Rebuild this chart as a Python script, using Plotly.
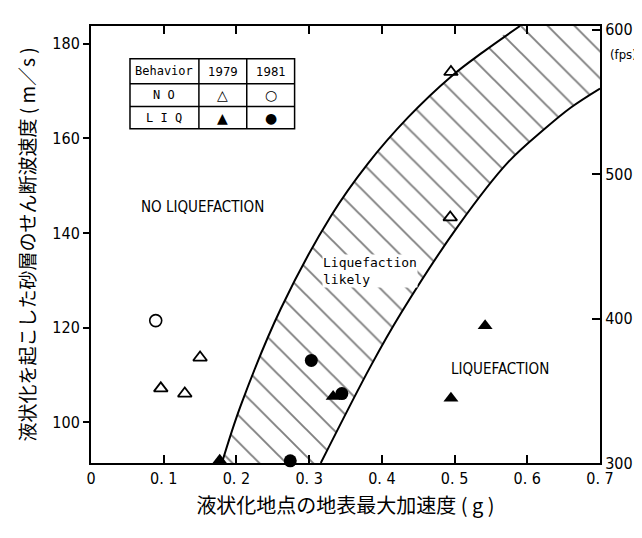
import plotly.graph_objects as go

# ---------------- data ----------------
# 1979 survey, no liquefaction (open triangles)
no79_x = [0.096, 0.129, 0.150, 0.495, 0.494]
no79_y = [107.2, 106.1, 113.7, 174.0, 143.3]
# 1981 survey, no liquefaction (open circles)
no81_x = [0.089]
no81_y = [121.5]
# 1979 survey, liquefaction (filled triangles)
liq79_x = [0.177, 0.333, 0.542, 0.495]
liq79_y = [92.0, 105.5, 120.4, 105.1]
# 1981 survey, liquefaction (filled circles)
liq81_x = [0.303, 0.345, 0.274]
liq81_y = [113.1, 106.1, 91.9]

# boundaries of the "liquefaction likely" band
left_x = [0.180, 0.206, 0.261, 0.330, 0.380, 0.436, 0.495, 0.540, 0.590]
left_y = [91.44, 103.6, 124.0, 143.6, 154.5, 164.4, 173.0, 178.3, 183.7]
right_x = [0.316, 0.385, 0.426, 0.505, 0.574, 0.624, 0.660, 0.700]
right_y = [91.44, 112.0, 123.0, 141.5, 155.0, 162.0, 166.5, 170.5]

x_range = [0.0, 0.7]
y_range = [91.44, 183.7]          # m/s
FT = 0.3048                        # m per ft
x_ticks = [0, 0.1, 0.2, 0.3, 0.4, 0.5, 0.6, 0.7]
x_ticktext = ["0", "0. 1", "0. 2", "0. 3", "0. 4", "0. 5", "0. 6", "0. 7"]
y_ticks = [100, 120, 140, 160, 180]
fps_ticks = [300, 400, 500, 600]

NARROW = "Liberation Sans Narrow, DejaVu Sans Condensed, Liberation Sans, sans-serif"
MONO = "DejaVu Sans Mono, Liberation Mono, monospace"
JP = "Noto Sans CJK JP, sans-serif"

fig = go.Figure()

# hatched band
band_x = left_x + [x_range[1], x_range[1]] + right_x[::-1]
band_y = left_y + [y_range[1], right_y[-1]] + right_y[::-1]
fig.add_trace(go.Scatter(
    x=band_x, y=band_y, mode="lines", fill="toself",
    line=dict(width=0, color="black", shape="spline"),
    fillcolor="rgba(0,0,0,0)",
    fillpattern=dict(shape="\\", size=19, solidity=0.1,
                     fgcolor="black", bgcolor="white"),
    hoverinfo="skip", showlegend=False))
fig.add_trace(go.Scatter(x=left_x, y=left_y, mode="lines",
                         line=dict(color="black", width=2, shape="spline"),
                         hoverinfo="skip", showlegend=False))
fig.add_trace(go.Scatter(x=right_x, y=right_y, mode="lines",
                         line=dict(color="black", width=2, shape="spline"),
                         hoverinfo="skip", showlegend=False))

# data points
fig.add_trace(go.Scatter(x=no79_x, y=no79_y, mode="markers", cliponaxis=False,
                         marker=dict(symbol="triangle-up-open", size=12,
                                     color="black", line=dict(width=1.8)),
                         showlegend=False))
fig.add_trace(go.Scatter(x=no81_x, y=no81_y, mode="markers", cliponaxis=False,
                         marker=dict(symbol="circle-open", size=12,
                                     color="black", line=dict(width=1.6)),
                         showlegend=False))
fig.add_trace(go.Scatter(x=liq79_x, y=liq79_y, mode="markers", cliponaxis=False,
                         marker=dict(symbol="triangle-up", size=13, color="black"),
                         showlegend=False))
fig.add_trace(go.Scatter(x=liq81_x, y=liq81_y, mode="markers", cliponaxis=False,
                         marker=dict(symbol="circle", size=13, color="black"),
                         showlegend=False))

# invisible trace to carry the fps axis
fig.add_trace(go.Scatter(x=[x_range[0], x_range[0]], y=[fps_ticks[0], fps_ticks[-1]],
                         yaxis="y2", mode="none", hoverinfo="skip",
                         showlegend=False))

# ---------------- legend table ----------------
tx = [0.0766, 0.212, 0.306, 0.400]     # column edges (paper)
ty = [0.925, 0.868, 0.816, 0.765]      # row edges (paper)
line = dict(color="black", width=1.5)
fig.add_shape(type="rect", xref="paper", yref="paper",
              x0=tx[0], x1=tx[3], y0=ty[3], y1=ty[0], line=line)
for xv in tx[1:3]:
    fig.add_shape(type="line", xref="paper", yref="paper",
                  x0=xv, x1=xv, y0=ty[3], y1=ty[0], line=line)
for yv in ty[1:3]:
    fig.add_shape(type="line", xref="paper", yref="paper",
                  x0=tx[0], x1=tx[3], y0=yv, y1=yv, line=line)

cells = [
    ["Behavior", "1979", "1981"],
    ["N O", "△", "○"],
    ["L I Q", "▲", "●"],
]
for r, row in enumerate(cells):
    yc = (ty[r] + ty[r + 1]) / 2
    for c, txt in enumerate(row):
        xc = (tx[c] + tx[c + 1]) / 2
        fam = MONO if c == 0 else NARROW
        size = 12 if c == 0 else 13
        if r > 0 and c > 0:
            fam = "DejaVu Sans, sans-serif"
            size = 14
        fig.add_annotation(x=xc, y=yc, xref="paper", yref="paper",
                           text=txt, showarrow=False,
                           font=dict(family=fam, size=size, color="black"),
                           xanchor="center", yanchor="middle")

# region labels
fig.add_annotation(x=0.153, y=145.4, text="NO LIQUEFACTION", showarrow=False,
                   font=dict(family=NARROW, size=15, color="black"),
                   xanchor="center", yanchor="middle")
fig.add_annotation(x=0.318, y=132.0, text="Liquefaction<br>likely", showarrow=False,
                   align="left", borderpad=0,
                   font=dict(family=MONO, size=13, color="black"),
                   xanchor="left", yanchor="middle", bgcolor="white")
fig.add_annotation(x=0.563, y=111.2, text="LIQUEFACTION", showarrow=False,
                   font=dict(family=NARROW, size=15, color="black"),
                   xanchor="center", yanchor="middle")
fig.add_annotation(x=1.015, y=0.935, xref="paper", yref="paper", text="(fps)",
                   showarrow=False, xanchor="left", yanchor="middle",
                   font=dict(family=NARROW, size=13, color="black"))

axis_common = dict(showgrid=False, zeroline=False, showline=True,
                   linecolor="black", linewidth=2, tickcolor="black",
                   tickwidth=1.5,
                   tickfont=dict(family=NARROW, size=16, color="black"))

fig.update_layout(
    width=642, height=538,
    margin=dict(l=83, r=50, t=16, b=83),
    paper_bgcolor="white", plot_bgcolor="white",
    xaxis=dict(range=x_range, tickvals=x_ticks, ticktext=x_ticktext,
               ticks="inside", ticklen=8, mirror="ticks",
               title=dict(text="液状化地点の地表最大加速度 ( g )",
                          font=dict(family=JP, size=20, color="black"),
                          standoff=12),
               **axis_common),
    yaxis=dict(range=y_range, tickvals=y_ticks, ticks="outside", ticklen=6,
               title=dict(text="液状化を起こした砂層のせん断波速度 ( m／s )",
                          font=dict(family=JP, size=19, color="black"),
                          standoff=12),
               **axis_common),
    yaxis2=dict(range=[y_range[0] / FT, y_range[1] / FT], tickvals=fps_ticks,
                overlaying="y", side="right", ticks="inside", ticklen=8,
                **axis_common),
)

fig.write_html("out.html")
